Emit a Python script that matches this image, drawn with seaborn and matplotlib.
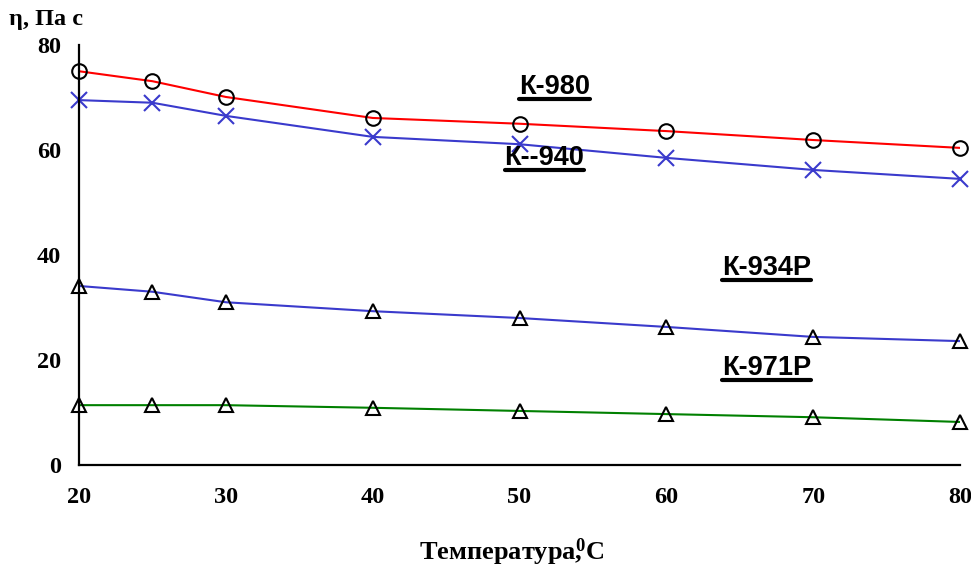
import numpy as np
import pandas as pd
import matplotlib
matplotlib.use('Agg')
import matplotlib.pyplot as plt
import seaborn as sns
from matplotlib.lines import Line2D

# temperatures, C
temp = [20, 25, 30, 40, 50, 60, 70, 80]

# viscosity, Pa*s
k980 = [75.0, 73.1, 70.1, 66.1, 65.0, 63.6, 61.9, 60.4]
k940 = [69.5, 69.0, 66.5, 62.5, 61.1, 58.5, 56.2, 54.5]
k934p = [34.1, 33.0, 31.0, 29.3, 28.0, 26.3, 24.4, 23.6]
k971p = [11.4, 11.4, 11.4, 10.9, 10.3, 9.7, 9.1, 8.2]

series_names = ['К-980', 'К--940', 'К-934Р', 'К-971Р']
series_values = [k980, k940, k934p, k971p]
line_colors = ['#ff0000', '#3a3acc', '#3a3acc', '#008000']
marker_shapes = ['o', 'x', '^', '^']
marker_colors = ['black', '#3a3acc', 'black', 'black']

# label anchor positions (data coords)
label_x = [52.4, 51.7, 66.8, 66.8]
label_y = [72.0, 58.4, 37.5, 18.5]

sns.set_style('white')
plt.rcParams['font.family'] = ['Liberation Serif', 'DejaVu Serif']
plt.rcParams['text.color'] = 'black'
plt.rcParams['xtick.labelcolor'] = 'black'
plt.rcParams['ytick.labelcolor'] = 'black'
plt.rcParams['mathtext.fontset'] = 'custom'
plt.rcParams['mathtext.rm'] = 'Liberation Serif:bold'
plt.rcParams['mathtext.it'] = 'Liberation Serif:bold'
plt.rcParams['mathtext.bf'] = 'Liberation Serif:bold'

fig = plt.figure(figsize=(9.71, 5.68), dpi=100)
ax = fig.add_axes([0.0814, 0.1813, 0.9073, 0.7395])

for name, vals, lc, mk, mc in zip(series_names, series_values, line_colors,
                                  marker_shapes, marker_colors):
    df = pd.DataFrame({'t': temp, 'eta': vals})
    sns.lineplot(data=df, x='t', y='eta', ax=ax, color=lc, linewidth=1.5)
    sns.lineplot(data=df, x='t', y='eta', ax=ax, linestyle='none',
                 marker=mk, markersize=10.5 if mk != 'x' else 11,
                 markerfacecolor='none', markeredgecolor=mc,
                 markeredgewidth=1.5, color=mc, clip_on=False)

ax.set_xlim(20, 80)
ax.set_ylim(0, 80)
ax.set_xticks([20, 30, 40, 50, 60, 70, 80])
ax.set_yticks([0, 20, 40, 60, 80])
ax.tick_params(axis='x', direction='inout', length=10, width=1.5,
               labelsize=17.5, pad=11, color='black')
ax.tick_params(axis='y', length=0, labelsize=17.5, pad=13)
for lab in ax.get_xticklabels() + ax.get_yticklabels():
    lab.set_fontweight('bold')

for s in ['top', 'right']:
    ax.spines[s].set_visible(False)
for s in ['left', 'bottom']:
    ax.spines[s].set_linewidth(1.6)
    ax.spines[s].set_color('black')
ax.grid(False)
ax.set_xlabel('')
ax.set_ylabel('')

fig.text(0.009, 0.966, 'η, Па с', fontsize=17.5, fontweight='bold',
         ha='left', va='center')
fig.text(0.527, 0.028, 'Температура$^0\\!\\!\\!,$С', fontsize=19,
         fontweight='bold', ha='center', va='center')

texts = []
for name, lx, ly in zip(series_names, label_x, label_y):
    t = ax.text(lx, ly, name, fontsize=19.5, fontweight='bold',
                family=['Liberation Sans', 'DejaVu Sans'], ha='center',
                va='center')
    texts.append(t)

# underline the curve labels
fig.canvas.draw()
renderer = fig.canvas.get_renderer()
inv = fig.transFigure.inverted()
for t in texts:
    bb = t.get_window_extent(renderer)
    (x0, y0), (x1, _) = inv.transform([[bb.x0, bb.y0 + 1], [bb.x1, bb.y0]])
    fig.add_artist(Line2D([x0, x1], [y0, y0], color='black', linewidth=3,
                          transform=fig.transFigure))

fig.savefig('out.png', dpi=100)
